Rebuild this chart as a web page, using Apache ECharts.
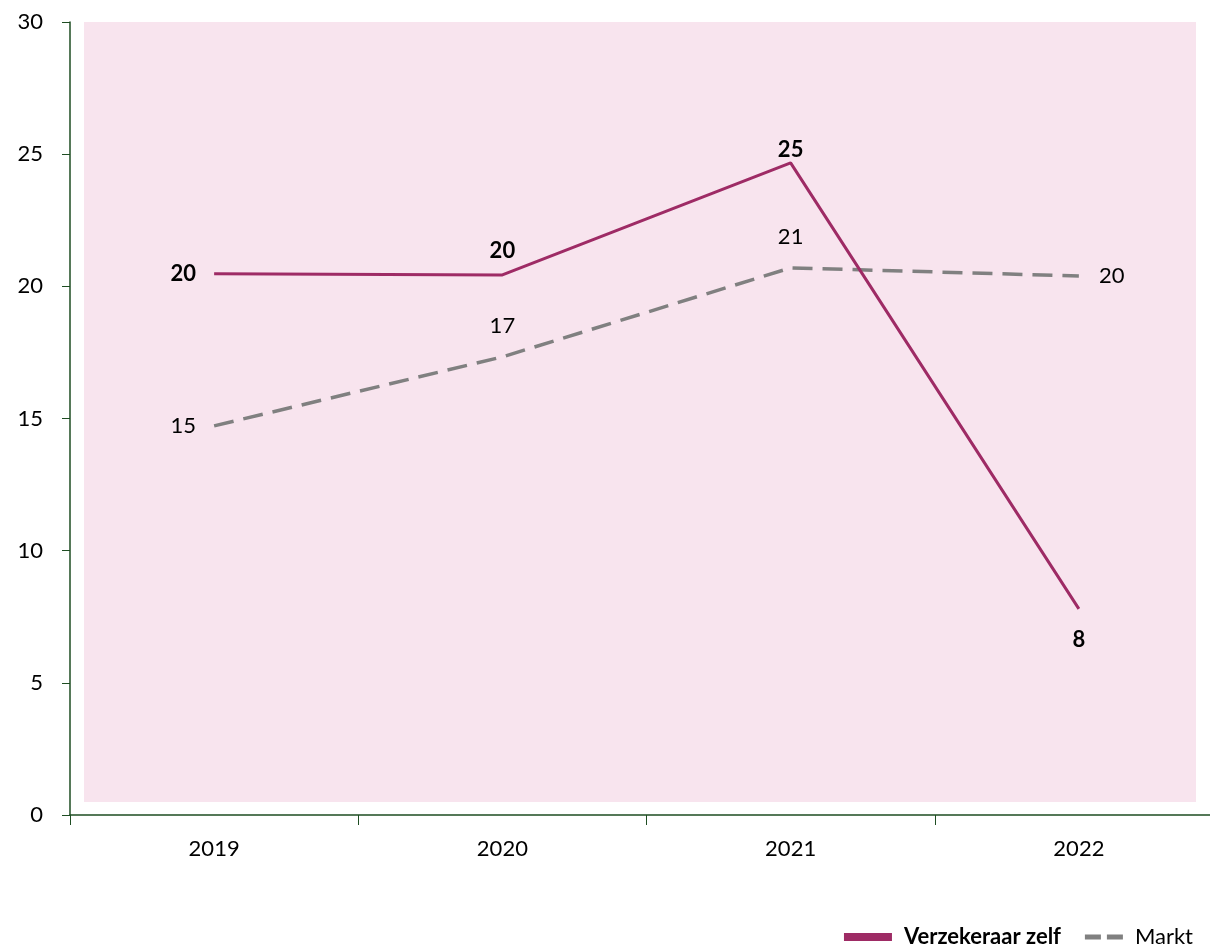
<!DOCTYPE html>
<html>
<head>
<meta charset="utf-8">
<script src="https://cdn.jsdelivr.net/npm/echarts@6/dist/echarts.min.js"></script>
<style>html,body{margin:0;padding:0;background:#fff}#c{width:1210px;height:950px}</style>
</head>
<body>
<div id="c"></div>
<script>
const categories = ['2019', '2020', '2021', '2022'];
const verzekeraar = [20.48, 20.43, 24.67, 7.8];
const markt = [14.72, 17.33, 20.70, 20.39];
const yTicks = [0, 5, 10, 15, 20, 25, 30];

const FONT = 'Lato, "Open Sans", sans-serif';
const vPos = [['left', 18], ['top', 13], ['top', 2], ['bottom', 20]];
const mPos = [['left', 18], ['top', 20], ['top', 20], ['right', 20]];

function build(vals, pos) {
  return vals.map((v, i) => ({
    value: v,
    label: { position: pos[i][0], distance: pos[i][1] }
  }));
}

const chart = echarts.init(document.getElementById('c'), null, { renderer: 'canvas' });
chart.setOption({
  animation: false,
  backgroundColor: '#ffffff',
  textStyle: { fontFamily: FONT },
  graphic: [{
    type: 'rect', z: -10, silent: true,
    shape: { x: 84, y: 22, width: 1112, height: 780 },
    style: { fill: '#F8E4EE' }
  }],
  grid: { left: 70, top: 22, width: 1153, height: 793, containLabel: false, outerBoundsMode: 'none' },
  xAxis: {
    type: 'category',
    data: categories,
    boundaryGap: true,
    axisLine: { lineStyle: { color: '#1E4D22', width: 1.5 } },
    axisTick: { show: true, length: 10, lineStyle: { color: '#1E4D22' } },
    axisLabel: { color: '#000', fontSize: 22, margin: 23, fontFamily: FONT }
  },
  yAxis: {
    type: 'value',
    min: 0, max: 30, interval: 5,
    splitLine: { show: false },
    axisLine: { show: true, lineStyle: { color: '#1E4D22', width: 1.5 } },
    axisTick: { show: true, length: 8, lineStyle: { color: '#1E4D22' } },
    axisLabel: { color: '#000', fontSize: 22, margin: 27, fontFamily: FONT,
      formatter: v => yTicks.includes(v) ? String(v) : '' }
  },
  legend: [{
    data: ['Verzekeraar zelf'],
    right: 144, top: 921,
    icon: 'rect', itemWidth: 48, itemHeight: 8, itemGap: 10,
    textStyle: { fontSize: 22, fontWeight: 'bold', color: '#000', fontFamily: FONT, padding: [0, 0, 0, 7] }
  }, {
    data: ['Markt'],
    right: 12, top: 921,
    icon: 'path://M0,0h16v5h-16z M22,0h16v5h-16z', itemWidth: 38, itemHeight: 5, itemGap: 10,
    textStyle: { fontSize: 22, color: '#000', fontFamily: FONT, padding: [0, 0, 0, 7] }
  }],
  series: [{
    name: 'Verzekeraar zelf',
    type: 'line',
    data: build(verzekeraar, vPos),
    symbol: 'circle', symbolSize: 0, showSymbol: true,
    lineStyle: { color: '#9E2B65', width: 3 },
    itemStyle: { color: '#9E2B65' },
    label: { show: true, fontSize: 22, fontWeight: 'bold', color: '#000', fontFamily: FONT,
      formatter: p => Math.round(p.value) },
    z: 3
  }, {
    name: 'Markt',
    type: 'line',
    data: build(markt, mPos),
    symbol: 'circle', symbolSize: 0, showSymbol: true,
    lineStyle: { color: '#808080', width: 3.5, type: [20, 10] },
    itemStyle: { color: '#808080' },
    label: { show: true, fontSize: 22, color: '#000', fontFamily: FONT,
      formatter: p => Math.round(p.value) },
    z: 2
  }]
});
</script>
</body>
</html>
